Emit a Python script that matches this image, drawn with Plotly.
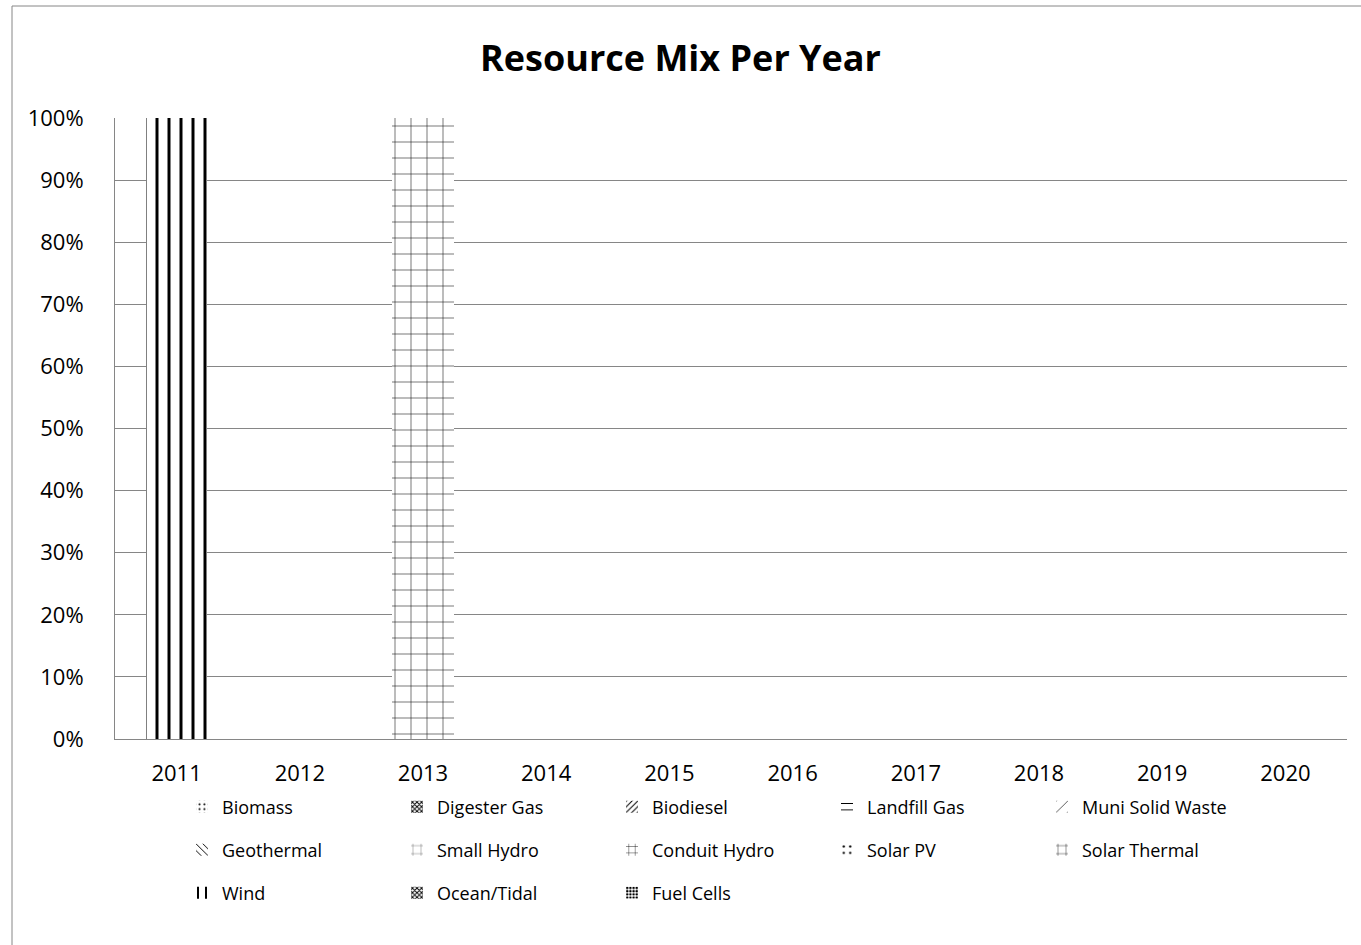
import plotly.graph_objects as go

years = ["2011", "2012", "2013", "2014", "2015", "2016", "2017", "2018", "2019", "2020"]
series_names = ["Biomass", "Digester Gas", "Biodiesel", "Landfill Gas", "Muni Solid Waste",
                "Geothermal", "Small Hydro", "Conduit Hydro", "Solar PV", "Solar Thermal",
                "Wind", "Ocean/Tidal", "Fuel Cells"]
biomass = [0, 0, 0, 0, 0, 0, 0, 0, 0, 0]
digester_gas = [0, 0, 0, 0, 0, 0, 0, 0, 0, 0]
biodiesel = [0, 0, 0, 0, 0, 0, 0, 0, 0, 0]
landfill_gas = [0, 0, 0, 0, 0, 0, 0, 0, 0, 0]
muni_solid_waste = [0, 0, 0, 0, 0, 0, 0, 0, 0, 0]
geothermal = [0, 0, 0, 0, 0, 0, 0, 0, 0, 0]
small_hydro = [0, 0, 1.0, 0, 0, 0, 0, 0, 0, 0]
conduit_hydro = [0, 0, 0, 0, 0, 0, 0, 0, 0, 0]
solar_pv = [0, 0, 0, 0, 0, 0, 0, 0, 0, 0]
solar_thermal = [0, 0, 0, 0, 0, 0, 0, 0, 0, 0]
wind = [1.0, 0, 0, 0, 0, 0, 0, 0, 0, 0]
ocean_tidal = [0, 0, 0, 0, 0, 0, 0, 0, 0, 0]
fuel_cells = [0, 0, 0, 0, 0, 0, 0, 0, 0, 0]

values = [biomass, digester_gas, biodiesel, landfill_gas, muni_solid_waste,
          geothermal, small_hydro, conduit_hydro, solar_pv, solar_thermal,
          wind, ocean_tidal, fuel_cells]
patterns = [".", "x", "/", "-", "/", "\\", "+", "+", ".", "+", "|", "x", "."]
pat_size = [6, 4, 5, 8, 10, 6, 16, 8, 8, 10, 12, 4, 4]
pat_sol = [0.15, 0.5, 0.25, 0.15, 0.08, 0.2, 0.07, 0.12, 0.1, 0.1, 0.25, 0.5, 0.5]
pat_color = ["black"] * 6 + ["#111111"] + ["black"] * 6

fig = go.Figure()
for i, (name, vals) in enumerate(zip(series_names, values)):
    leg = "legend" if i < 5 else ("legend2" if i < 10 else "legend3")
    fig.add_trace(go.Bar(
        x=years, y=vals, name=name, legend=leg,
        marker=dict(color="white", line=dict(width=0),
                    pattern=dict(shape=patterns[i], fgcolor=pat_color[i], bgcolor="white",
                                 size=pat_size[i], solidity=pat_sol[i], fillmode="replace")),
    ))

font_family = "'Open Sans', sans-serif"
W, H = 1361, 945
L, R, T, B = 115, 1347, 118, 739
pw, ph = R - L, B - T

def px(x):
    return (x - L) / pw

def py(y):
    return (B - y) / ph

legend_common = dict(orientation="h", xanchor="left", yanchor="middle",
                     entrywidth=170, entrywidthmode="pixels",
                     font=dict(family=font_family, size=18, color="black"),
                     bgcolor="rgba(0,0,0,0)", itemwidth=30, traceorder="normal")

fig.update_layout(
    width=W, height=H,
    margin=dict(l=L, r=W - R, t=T, b=H - B, pad=0),
    paper_bgcolor="white", plot_bgcolor="white",
    barmode="stack", bargap=0.5,
    title=dict(text="<b>Resource Mix Per Year</b>", x=0.5, xanchor="center",
               y=1 - 58 / H, yanchor="middle",
               font=dict(family=font_family, size=36, color="black")),
    font=dict(family=font_family, size=22, color="black"),
    xaxis=dict(type="category", showgrid=False, showline=True, linecolor="#868686",
               linewidth=1, ticks="outside", ticklen=15, tickcolor="rgba(0,0,0,0)",
               tickfont=dict(size=22, color="black")),
    yaxis=dict(range=[0, 1], dtick=0.1, tickformat=".0%", showgrid=True,
               gridcolor="#868686", gridwidth=1, showline=True, linecolor="#868686",
               linewidth=1, zeroline=False, ticks="outside", ticklen=26,
               tickcolor="rgba(0,0,0,0)", tickfont=dict(size=22, color="black")),
    legend=dict(x=px(182), y=py(807), **legend_common),
    legend2=dict(x=px(182), y=py(850), **legend_common),
    legend3=dict(x=px(182), y=py(893), **legend_common),
    shapes=[dict(type="rect", xref="paper", yref="paper",
                 x0=px(12), x1=px(1362), y0=py(946), y1=py(6),
                 line=dict(color="#868686", width=1), fillcolor="rgba(0,0,0,0)", layer="below")],
)

fig.write_html("out.html", config={"displayModeBar": False},
               post_script="document.body.style.margin='0';")
